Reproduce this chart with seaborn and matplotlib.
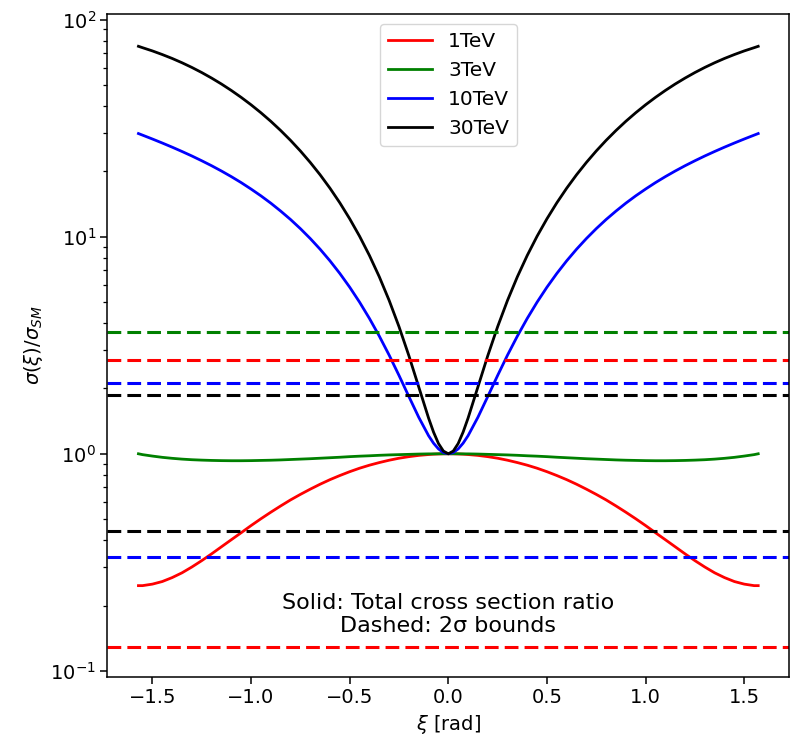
import numpy as np
import pandas as pd
import matplotlib
matplotlib.use("Agg")
import matplotlib.pyplot as plt
import seaborn as sns

# Collider energies and their line colours
energies = ["1TeV", "3TeV", "10TeV", "30TeV"]
colors = ["red", "green", "blue", "black"]

# Mixing angle grid [rad]
xi = [-1.5708, -1.55, -1.5, -1.45, -1.4, -1.35, -1.3, -1.25, -1.2, -1.15, -1.1,
      -1.05, -1.0, -0.95, -0.9, -0.85, -0.8, -0.75, -0.7, -0.65, -0.6,
      -0.55, -0.5, -0.45, -0.4, -0.35, -0.3, -0.25, -0.2, -0.15, -0.1,
      -0.075, -0.05, -0.025,
      0.0,
      0.025, 0.05, 0.075,
      0.1, 0.15, 0.2, 0.25, 0.3, 0.35, 0.4, 0.45, 0.5, 0.55,
      0.6, 0.65, 0.7, 0.75, 0.8, 0.85, 0.9, 0.95, 1.0, 1.05,
      1.1, 1.15, 1.2, 1.25, 1.3, 1.35, 1.4, 1.45, 1.5, 1.55, 1.5708]

# Total cross section ratio sigma(xi)/sigma_SM for each energy
ratio_1tev = [0.247, 0.247, 0.251, 0.258, 0.269, 0.283, 0.301, 0.322, 0.346, 0.373, 0.402,
              0.433, 0.467, 0.502, 0.538, 0.575, 0.613, 0.650, 0.687, 0.724, 0.760,
              0.794, 0.827, 0.858, 0.886, 0.911, 0.934, 0.954, 0.970, 0.983, 0.992,
              0.996, 0.998, 1.000,
              1.000,
              1.000, 0.998, 0.996,
              0.992, 0.983, 0.970, 0.954, 0.934, 0.911, 0.886, 0.858, 0.827, 0.794,
              0.760, 0.724, 0.687, 0.650, 0.613, 0.575, 0.538, 0.502, 0.467, 0.433,
              0.402, 0.373, 0.346, 0.322, 0.301, 0.283, 0.269, 0.258, 0.251, 0.247, 0.247]
ratio_3tev = [1.000, 0.991, 0.976, 0.963, 0.953, 0.945, 0.939, 0.935, 0.932, 0.930, 0.929,
              0.929, 0.930, 0.932, 0.934, 0.937, 0.941, 0.945, 0.949, 0.954, 0.959,
              0.964, 0.970, 0.975, 0.979, 0.984, 0.988, 0.991, 0.994, 0.997, 0.999,
              0.999, 1.000, 1.000,
              1.000,
              1.000, 1.000, 0.999,
              0.999, 0.997, 0.994, 0.991, 0.988, 0.984, 0.979, 0.975, 0.970, 0.964,
              0.959, 0.954, 0.949, 0.945, 0.941, 0.937, 0.934, 0.932, 0.930, 0.929,
              0.929, 0.930, 0.932, 0.935, 0.939, 0.945, 0.953, 0.963, 0.976, 0.991, 1.000]
ratio_10tev = [29.85, 29.35, 28.17, 27.00, 25.84, 24.68, 23.53, 22.37, 21.22, 20.06, 18.90,
               17.74, 16.57, 15.42, 14.27, 13.12, 12.00, 10.89, 9.806, 8.754, 7.740,
               6.770, 5.853, 4.994, 4.202, 3.484, 2.847, 2.295, 1.836, 1.473, 1.211,
               1.119, 1.053, 1.013,
               1.000,
               1.013, 1.053, 1.119,
               1.211, 1.473, 1.836, 2.295, 2.847, 3.484, 4.202, 4.994, 5.853, 6.770,
               7.740, 8.754, 9.806, 10.89, 12.00, 13.12, 14.27, 15.42, 16.57, 17.74,
               18.90, 20.06, 21.22, 22.37, 23.53, 24.68, 25.84, 27.00, 28.17, 29.35, 29.85]
ratio_30tev = [75.3, 74.2, 71.7, 69.0, 66.2, 63.25, 60.18, 57.01, 53.76, 50.47, 47.14,
               43.81, 40.50, 37.22, 34.00, 30.84, 27.78, 24.82, 21.98, 19.28, 16.72,
               14.32, 12.09, 10.05, 8.194, 6.538, 5.087, 3.850, 2.830, 2.032, 1.459,
               1.259, 1.115, 1.029,
               1.000,
               1.029, 1.115, 1.259,
               1.459, 2.032, 2.830, 3.850, 5.087, 6.538, 8.194, 10.05, 12.09, 14.32,
               16.72, 19.28, 21.98, 24.82, 27.78, 30.84, 34.00, 37.22, 40.50, 43.81,
               47.14, 50.47, 53.76, 57.01, 60.18, 63.25, 66.2, 69.0, 71.7, 74.2, 75.3]

# 2-sigma bounds on the ratio (None: outside the plotted range)
upper_bound = [2.71, 3.64, 2.11, 1.865]
lower_bound = [0.129, None, 0.335, 0.440]

df = pd.DataFrame({
    "xi": xi * 4,
    "ratio": ratio_1tev + ratio_3tev + ratio_10tev + ratio_30tev,
    "energy": np.repeat(energies, len(xi)),
})

fs = 14
plt.rcParams.update({
    "xtick.labelsize": fs, "ytick.labelsize": fs,
    "xtick.major.size": 4.8, "ytick.major.size": 4.8,
    "xtick.minor.size": 2.8, "ytick.minor.size": 2.8,
    "xtick.major.width": 1.1, "ytick.major.width": 1.1,
    "xtick.minor.width": 0.9, "ytick.minor.width": 0.9,
    "axes.linewidth": 1.1,
})

fig = plt.figure(figsize=(7.9, 7.4), dpi=100)
ax = fig.add_axes([0.136, 0.0855, 0.863, 0.8955])

sns.lineplot(data=df, x="xi", y="ratio", hue="energy", hue_order=energies,
             palette=colors, linewidth=2.0, estimator=None, ax=ax)

for c, up, lo in zip(colors, upper_bound, lower_bound):
    ax.axhline(up, color=c, linestyle=(0, (4.5, 2.0)), linewidth=2.2)
    if lo is not None:
        ax.axhline(lo, color=c, linestyle=(0, (4.5, 2.0)), linewidth=2.2)

ax.set_yscale("log")
ax.set_ylim(0.094, 106)
ax.set_xlim(-1.728, 1.728)
ax.set_xticks([-1.5, -1.0, -0.5, 0.0, 0.5, 1.0, 1.5])

ax.set_xlabel(r"$\xi$ [rad]", fontsize=fs)
ax.set_ylabel(r"$\sigma(\xi)/\sigma_{SM}$", fontsize=fs)

sns.move_legend(ax, "upper center", title=None, fontsize=14.5, frameon=True,
                handlelength=2.2)

ax.text(0.5, 0.094, "Solid: Total cross section ratio\nDashed: 2σ bounds",
        transform=ax.transAxes, ha="center", va="center",
        multialignment="center", fontsize=16)

fig.savefig("out.png", dpi=100)
